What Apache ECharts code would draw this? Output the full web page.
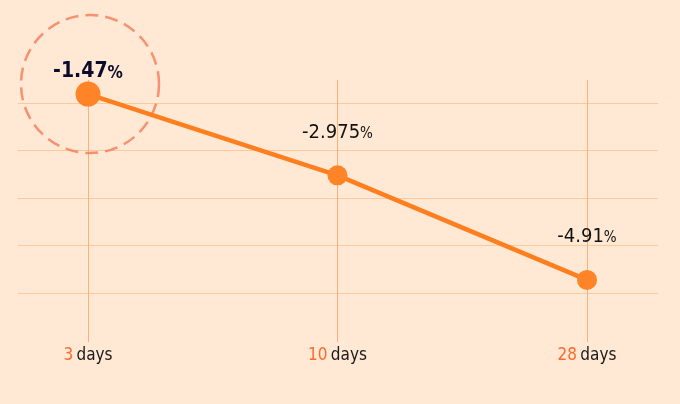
<!DOCTYPE html>
<html>
<head>
    <meta charset="UTF-8">
    <title>days change</title>
    <script src="https://cdn.jsdelivr.net/npm/echarts@6/dist/echarts.min.js"></script>
    <style>
        html, body { margin: 0; padding: 0; background: #FFE8D4; }
    </style>
</head>
<body>
    <div id="chartBox" style="width: 680px;height:404px;"></div>

    <script>
        // data
        var dayLabels = ['3', '10', '28'];
        var changeValues = [-1.47, -2.975, -4.91];
        var gridTicks = [0, 4];

        var FONT = '"Liberation Sans Narrow", "DejaVu Sans Condensed", sans-serif';

        var myChart = echarts.init(document.getElementById('chartBox'));

        // 每个点的标签样式，第一个点加粗突出
        var pointData = changeValues.map(function (v, i) {
            var first = i === 0;
            return {
                value: v,
                symbolSize: first ? 25 : 20,
                label: {
                    show: true,
                    position: 'top',
                    distance: first ? -1 : 23,
                    formatter: function (p) {
                        return first ? '{vb|' + p.value + '}{pb|%}' : '{v|' + p.value + '}{p|%}';
                    },
                    rich: {
                        vb: { fontFamily: FONT, fontSize: 21, fontWeight: 'bold', color: '#0B0B2E' },
                        pb: { fontFamily: FONT, fontSize: 17, fontWeight: 'bold', color: '#0B0B2E', padding: [3, 0, 0, 0] },
                        v: { fontFamily: FONT, fontSize: 20, color: '#111111' },
                        p: { fontFamily: FONT, fontSize: 15, color: '#111111', padding: [3, 0, 0, 0] }
                    }
                }
            };
        });

        var option = {
            backgroundColor: '#FFE8D4',
            animation: false,
            grid: [
                // horizontal guide lines
                { left: 18, right: 22, top: 103, bottom: 111 },
                // data area
                { left: 88, right: 93, top: 80, bottom: 62 }
            ],
            xAxis: [{
                gridIndex: 0,
                type: 'value',
                min: 0,
                max: 1,
                show: false
            }, {
                gridIndex: 1,
                type: 'category',
                boundaryGap: false,
                data: dayLabels,
                axisLine: { show: false },
                axisTick: { show: false },
                splitLine: {
                    show: true,
                    lineStyle: { color: '#FDB07A', width: 1 }
                },
                axisLabel: {
                    margin: 5,
                    formatter: function (v) {
                        return '{n|' + v + '} {d|days}';
                    },
                    rich: {
                        n: { fontFamily: FONT, fontSize: 17, color: '#FF6A2A' },
                        d: { fontFamily: FONT, fontSize: 17, color: '#1A1A1A' }
                    }
                }
            }],
            yAxis: [{
                gridIndex: 0,
                type: 'value',
                min: gridTicks[0],
                max: gridTicks[1],
                interval: 1,
                axisLine: { show: false },
                axisTick: { show: false },
                axisLabel: { show: false },
                splitLine: {
                    show: true,
                    lineStyle: { color: '#FDC99B', width: 1 }
                }
            }, {
                gridIndex: 1,
                type: 'value',
                min: -6.06,
                max: -1.21,
                show: false,
                splitLine: { show: false }
            }],
            series: [{
                type: 'line',
                xAxisIndex: 1,
                yAxisIndex: 1,
                data: pointData,
                symbol: 'circle',
                z: 3,
                lineStyle: { color: '#FF7F1F', width: 4.5 },
                itemStyle: { color: '#FF8427' }
            }, {
                // dashed highlight ring around first point
                type: 'scatter',
                xAxisIndex: 1,
                yAxisIndex: 1,
                data: [[0, changeValues[0]]],
                symbol: 'circle',
                symbolSize: 138,
                symbolOffset: [2, -10],
                z: 2,
                silent: true,
                itemStyle: {
                    color: 'transparent',
                    borderColor: '#F47C58',
                    borderWidth: 2.5,
                    borderType: [13, 7]
                }
            }]
        };

        myChart.setOption(option);
    </script>
</body>
</html>
